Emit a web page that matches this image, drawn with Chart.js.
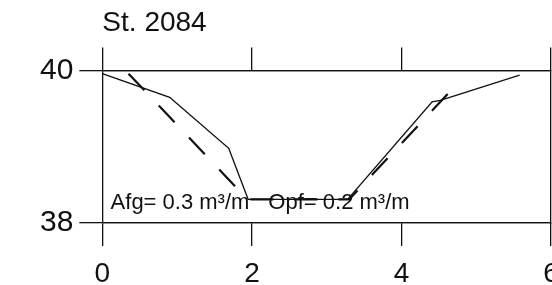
<!DOCTYPE html>
<html>
<head>
<meta charset="utf-8">
<script src="https://cdn.jsdelivr.net/npm/chart.js@4/dist/chart.umd.min.js"></script>
<style>
  html, body { margin: 0; padding: 0; background: #fff; overflow: hidden; }
  #wrap { width: 552px; height: 285px; }
</style>
</head>
<body>
<div id="wrap"><canvas id="profileChart" width="552" height="285"></canvas></div>
<script>
// surveyed cross-section (solid)
const surveyDist = [0, 0.90, 1.69, 1.95, 3.28, 4.41, 4.52, 5.58];
const surveyElev = [39.96, 39.65, 38.98, 38.31, 38.31, 39.59, 39.61, 39.94];
// design profile (dashed)
const designDist = [0.35, 1.94, 3.30, 4.72];
const designElev = [39.96, 38.31, 38.31, 39.80];

const xTickValues = [0, 2, 4, 6];
const yTickValues = [38, 40];

const titleText = 'St. 2084';
const noteLabels = ['Afg= 0.3 m³/m', 'Opf= 0.2 m³/m'];
const noteDist = [0.11, 2.22];
const noteElev = 38.19;

const fontFamily = '"Liberation Sans", Arial, Helvetica, sans-serif';
const ink = '#111';

function toPoints(xs, ys) {
    return xs.map(function(x, i) { return { x: x, y: ys[i] }; });
}

function fixedTicks(values) {
    return function(scale) {
        scale.ticks = values.map(function(v) { return { value: v }; });
    };
}

// the "6" label is cut by the page edge in the original, so no side padding
function noSidePadding(height) {
    return function(scale) {
        scale.paddingLeft = 0;
        scale.paddingRight = 0;
        if (height) scale.height = height;
    };
}

// draws the volume note inside the plot
const notePlugin = {
    id: 'notePlugin',
    afterDatasetsDraw(chart) {
        const ctx = chart.ctx;
        const xs = chart.scales.x;
        const ys = chart.scales.y;
        ctx.save();
        ctx.fillStyle = ink;
        ctx.font = '22px ' + fontFamily;
        ctx.textBaseline = 'alphabetic';
        ctx.textAlign = 'left';
        noteLabels.forEach(function(txt, i) {
            ctx.fillText(txt, xs.getPixelForValue(noteDist[i]), ys.getPixelForValue(noteElev));
        });
        ctx.restore();
    }
};

const ctx = document.getElementById('profileChart').getContext('2d');
new Chart(ctx, {
    type: 'scatter',
    data: {
        datasets: [{
            data: toPoints(surveyDist, surveyElev),
            showLine: true,
            borderColor: ink,
            borderWidth: 1.4,
            pointRadius: 0,
            tension: 0
        }, {
            data: toPoints(designDist, designElev),
            showLine: true,
            borderColor: ink,
            borderWidth: 2.2,
            borderDash: [23, 21],
            pointRadius: 0,
            tension: 0
        }]
    },
    options: {
        responsive: false,
        animation: false,
        layout: { padding: { left: 34, right: 1, top: 0, bottom: 0 } },
        plugins: {
            legend: { display: false },
            tooltip: { enabled: false },
            title: {
                display: true,
                text: titleText,
                align: 'start',
                fullSize: false,
                color: ink,
                font: { family: fontFamily, size: 28, weight: 'normal' },
                padding: { top: 6, bottom: 8 }
            }
        },
        scales: {
            x: {
                type: 'linear',
                position: 'bottom',
                min: 0,
                max: 6,
                afterBuildTicks: fixedTicks(xTickValues),
                afterFit: noSidePadding(62),
                grid: { drawOnChartArea: false, tickLength: 23, color: ink, lineWidth: 1.3 },
                border: { display: true, color: ink, width: 1.3 },
                ticks: { color: ink, padding: 11, font: { family: fontFamily, size: 28 } }
            },
            xTop: {
                type: 'linear',
                position: 'top',
                min: 0,
                max: 6,
                afterBuildTicks: fixedTicks(xTickValues),
                afterFit: noSidePadding(0),
                grid: { drawOnChartArea: false, tickLength: 23, color: ink, lineWidth: 1.3 },
                border: { display: true, color: ink, width: 1.3 },
                ticks: { display: false }
            },
            y: {
                type: 'linear',
                position: 'left',
                min: 38,
                max: 40,
                afterBuildTicks: fixedTicks(yTickValues),
                grid: { drawOnChartArea: true, tickLength: 23, color: ink, lineWidth: 1.3 },
                border: { display: true, color: ink, width: 1.3 },
                ticks: { color: ink, padding: 6, font: { family: fontFamily, size: 30 } }
            },
            yRight: {
                type: 'linear',
                position: 'right',
                min: 38,
                max: 40,
                afterFit: function(scale) { scale.width = 0; },
                grid: { display: false, drawTicks: false, tickLength: 0 },
                border: { display: true, color: ink, width: 1.3 },
                ticks: { display: false, padding: 0 }
            }
        }
    },
    plugins: [notePlugin]
});
</script>
</body>
</html>
